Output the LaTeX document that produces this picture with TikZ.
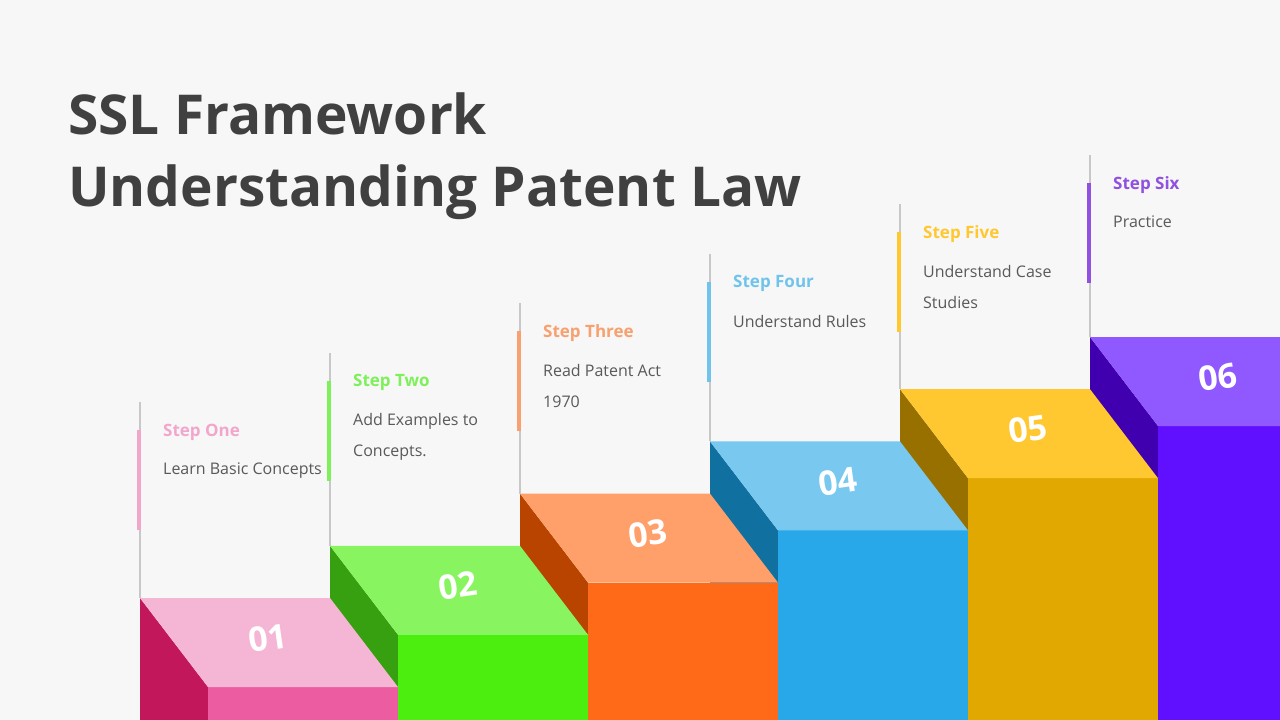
\documentclass[tikz,border=0pt]{standalone}
\usepackage{fontspec}
\setmainfont{Open Sans}
\definecolor{bg}{HTML}{F7F7F7}
\definecolor{titlegray}{HTML}{404040}
\definecolor{txtgray}{HTML}{595959}
\definecolor{rulegray}{HTML}{C8C8C8}
\definecolor{topA}{HTML}{F5B5D5}\definecolor{frontA}{HTML}{EC5CA0}\definecolor{sideA}{HTML}{C2185B}\definecolor{labA}{HTML}{F3A6CB}
\definecolor{topB}{HTML}{88F560}\definecolor{frontB}{HTML}{4CEE10}\definecolor{sideB}{HTML}{36A010}\definecolor{labB}{HTML}{7EF05A}
\definecolor{topC}{HTML}{FFA06A}\definecolor{frontC}{HTML}{FF6A18}\definecolor{sideC}{HTML}{B84400}\definecolor{labC}{HTML}{F8A070}
\definecolor{topD}{HTML}{78C8F0}\definecolor{frontD}{HTML}{28A8E8}\definecolor{sideD}{HTML}{1070A0}\definecolor{labD}{HTML}{70C4EC}
\definecolor{topE}{HTML}{FFC830}\definecolor{frontE}{HTML}{E0A800}\definecolor{sideE}{HTML}{987000}\definecolor{labE}{HTML}{FFC830}
\definecolor{topF}{HTML}{9058FF}\definecolor{frontF}{HTML}{6010FF}\definecolor{sideF}{HTML}{4000B0}\definecolor{labF}{HTML}{9050E0}
\tikzset{
  title/.style={
    anchor=north west,
    align=left,
    text=titlegray,
    font=\fontsize{55}{72}\selectfont\bfseries,
    inner sep=0pt,
  },
  head/.style={
    anchor=west,
    inner sep=0pt,
    font=\fontsize{17}{20}\selectfont\bfseries,
  },
  desc/.style={
    anchor=north west,
    align=left,
    inner sep=0pt,
    text=txtgray,
    font=\fontsize{16}{31}\selectfont,
  },
  num/.style={
    text=white,
    rotate=8,
    font=\fontsize{34}{40}\selectfont\bfseries,
  },
}
\begin{document}
\begin{tikzpicture}[x=1pt,y=-1pt]
  \fill[bg] (0,0) rectangle (1280,720);
  \useasboundingbox (0,0) rectangle (1280,720);
  \node[title] (ttl) at (68,93) {SSL Framework\\Understanding Patent Law};
  \foreach \i/\c/\h/\d in {5/F/Step Six/Practice,
      4/E/Step Five/Understand Case\\Studies,
      3/D/Step Four/Understand Rules,
      2/C/Step Three/Read Patent Act\\1970,
      1/B/Step Two/Add Examples to\\Concepts.,
      0/A/Step One/Learn Basic Concepts} {
    \pgfmathsetmacro{\bx}{140+190*\i}
    \pgfmathsetmacro{\by}{598-52.2*\i}
    \pgfmathsetmacro{\ty}{402-49.4*\i}
    % block faces
    \fill[side\c] (\bx,\by) -- (\bx+68,\by+89) -- (\bx+68,720) -- (\bx,720) -- cycle;
    \fill[front\c] (\bx+68,\by+89) rectangle (\bx+258,720);
    \fill[top\c] (\bx,\by) -- (\bx+190,\by) -- (\bx+258,\by+89) -- (\bx+68,\by+89) -- cycle;
    \node[num] (num\i) at (\bx+128,\by+40) {0\the\numexpr\i+1\relax};
    % guide and text
    \draw[rulegray, line width=1.2pt] (\bx,\by) -- (\bx,\ty);
    \fill[lab\c] (\bx-3,\ty+28) rectangle (\bx+1,\ty+128);
    \node[head, text=lab\c] (head\i) at (\bx+23,\ty+30) {\h};
    \node[desc] (desc\i) at (\bx+23,\ty+61) {\d};
  }
\end{tikzpicture}
\end{document}
